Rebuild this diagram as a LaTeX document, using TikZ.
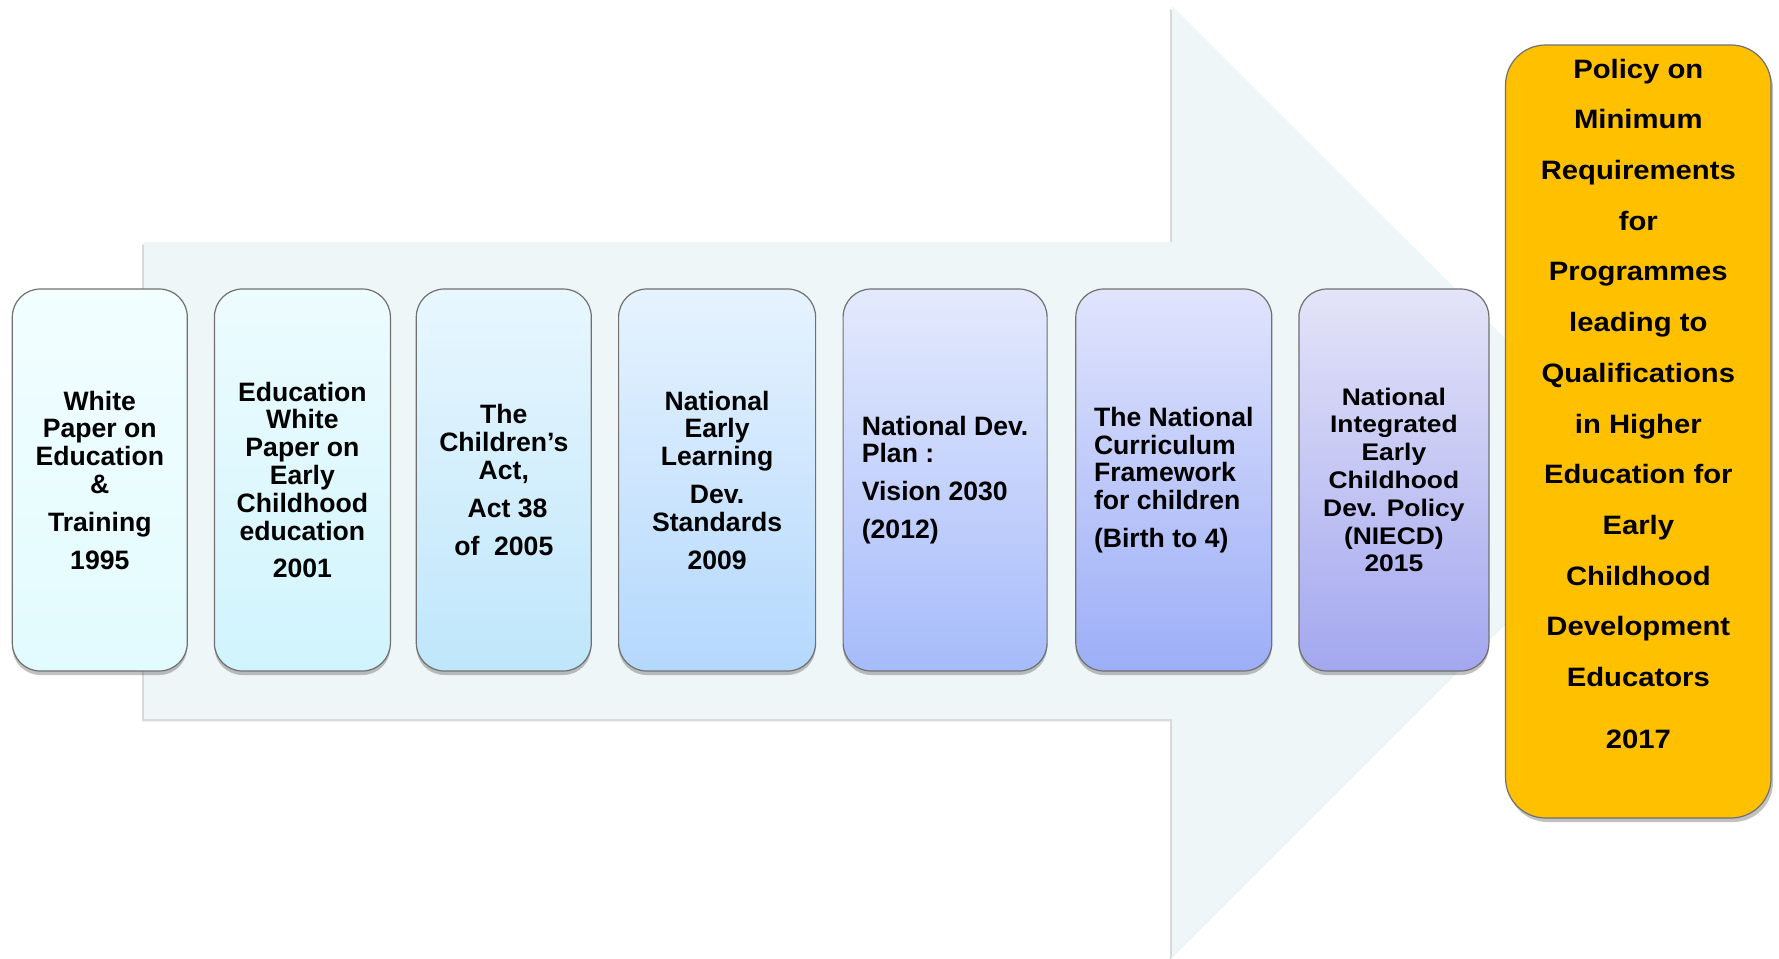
\documentclass[tikz,border=0pt]{standalone}
\usepackage{fontspec}
\setmainfont{Liberation Sans}
\newfontfamily\widefont[FakeStretch=1.1]{Liberation Sans}
\usetikzlibrary{shadows}
\definecolor{arrowfill}{HTML}{EFF6F8}
\definecolor{boxline}{HTML}{707070}
\definecolor{goldfill}{HTML}{FFC000}
\definecolor{t1}{HTML}{F2FEFF}\definecolor{b1}{HTML}{E2FBFE}
\definecolor{t2}{HTML}{EDFCFE}\definecolor{b2}{HTML}{D0F4FD}
\definecolor{t3}{HTML}{E8F7FE}\definecolor{b3}{HTML}{BFE6FB}
\definecolor{t4}{HTML}{E6F3FE}\definecolor{b4}{HTML}{B4D8FD}
\definecolor{t5}{HTML}{E4EAFD}\definecolor{b5}{HTML}{A6BBFA}
\definecolor{t6}{HTML}{E0E4FC}\definecolor{b6}{HTML}{9CAEF7}
\definecolor{t7}{HTML}{E4E4F8}\definecolor{b7}{HTML}{A3A7EF}
\tikzset{
  stage/.style={rectangle, rounded corners=14pt, draw=boxline, line width=0.6pt,
    minimum height=191pt, inner sep=0pt, align=center,
    font=\bfseries\fontsize{13.3}{13.9}\selectfont,
    drop shadow={shadow xshift=0pt, shadow yshift=-2pt, opacity=0.35, fill=black!70}},
  goldbox/.style={rectangle, rounded corners=20pt, draw=boxline, line width=0.6pt,
    fill=goldfill, minimum width=132.75pt, minimum height=386.5pt, inner sep=0pt,
    drop shadow={shadow xshift=1pt, shadow yshift=-2pt, opacity=0.35, fill=black!70}},
  goldtext/.style={align=center, inner sep=0pt,
    font=\widefont\bfseries\fontsize{13.3}{25.35}\selectfont}
}
\begin{document}
\begin{tikzpicture}[x=0.5pt,y=-0.5pt]
\useasboundingbox (0,0) rectangle (1779,959);
% big background arrow
\fill[arrowfill, drop shadow={shadow xshift=-1pt, shadow yshift=-1.2pt, opacity=0.25, fill=black!60}]
  (144,242) -- (1172,242) -- (1172,6) -- (1648,481) -- (1172,957) -- (1172,719) -- (144,719) -- cycle;
% stages
\node[stage, top color=t1, bottom color=b1, minimum width=87.5pt] (s1) at (99.8,480)
  {White\\Paper on\\Education\\\&\\[5pt]Training\\[5pt]1995};
\node[stage, top color=t2, bottom color=b2, minimum width=88pt] (s2) at (302.4,480)
  {Education\\White\\Paper on\\Early\\Childhood\\education\\[5pt]2001};
\node[stage, top color=t3, bottom color=b3, minimum width=87.5pt] (s3) at (503.8,480)
  {The\\Children’s\\Act,\\[5pt]\ Act 38\\[5pt]of~ 2005};
\node[stage, top color=t4, bottom color=b4, minimum width=98.5pt] (s4) at (717.1,480)
  {National\\Early\\Learning\\[5pt]Dev.\\Standards\\[5pt]2009};
\node[stage, top color=t5, bottom color=b5, minimum width=102pt, align=left] (s5) at (945.1,480)
  {National Dev.\\Plan :\\[5pt]Vision 2030\\[5pt](2012)};
\node[stage, top color=t6, bottom color=b6, minimum width=98pt, align=left] (s6) at (1173.8,480)
  {The National\\Curriculum\\Framework\\for children\\[5pt](Birth to 4)};
\node[stage, top color=t7, bottom color=b7, minimum width=95pt,
  font=\widefont\bfseries\fontsize{12}{13.9}\selectfont] (s7) at (1393.9,480)
  {National\\Integrated\\Early\\Childhood\\Dev. Policy\\(NIECD)\\2015};
% final policy
\node[goldbox] (policy) at (1638.3,431.5) {};
\node[goldtext] (policytext) at (1638.3,404)
  {Policy on\\Minimum\\Requirements\\for\\Programmes\\leading to\\Qualifications\\in Higher\\Education for\\Early\\Childhood\\Development\\Educators\\[5.85pt]2017};
\end{tikzpicture}
\end{document}
